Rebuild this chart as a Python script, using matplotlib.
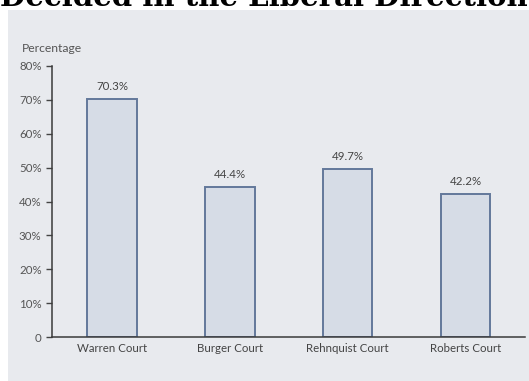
import matplotlib
matplotlib.use("Agg")
import matplotlib.pyplot as plt
from matplotlib.patches import Rectangle

courts = ["Warren Court", "Burger Court", "Rehnquist Court", "Roberts Court"]
liberal_pct = [70.3, 44.4, 49.7, 42.2]
y_ticks = [0, 10, 20, 30, 40, 50, 60, 70, 80]
y_tick_labels = ["0", "10%", "20%", "30%", "40%", "50%", "60%", "70%", "80%"]
title = "Decided in the Liberal Direction"

W, H = 529, 381
fig = plt.figure(figsize=(W / 100, H / 100), dpi=100)
fig.patch.set_facecolor("white")

# gray panel behind the chart
fig.patches.append(Rectangle((8 / W, 0), 1 - 8 / W, 1 - 10 / H,
                             transform=fig.transFigure, facecolor="#e8eaee",
                             edgecolor="none", zorder=-5))

# heading runs off the top edge
fig.text(0.0, 1 - 6 / H, title, family="DejaVu Serif", weight="bold",
         fontsize=21, color="black", va="baseline", ha="left")

left, right, bottom, top = 52 / W, 525 / W, 1 - 337 / H, 1 - 66 / H
ax = fig.add_axes([left, bottom, right - left, top - bottom])
ax.set_zorder(2)
ax.set_facecolor("none")

font = "Lato"
fs = 8.3
x = range(len(courts))
bars = ax.bar(x, liberal_pct, width=0.42, color="#d6dce6",
              edgecolor="#63789a", linewidth=1.4, zorder=2)
for xi, v in zip(x, liberal_pct):
    ax.text(xi, v + 2.0, f"{v}%", ha="center", va="bottom", fontsize=fs,
            family=font, color="#444444")

ax.set_xlim(-0.508, 3.504)
ax.set_ylim(0, 80)
ax.set_yticks(y_ticks)
ax.set_yticklabels(y_tick_labels, family=font, fontsize=fs, color="#555555")
ax.set_xticks(list(x))
ax.set_xticklabels(courts, family=font, fontsize=fs, color="#444444")
ax.tick_params(axis="x", length=0, pad=4.5)
ax.tick_params(axis="y", length=4, width=1, color="#444444", pad=3.5)

for s in ["top", "right"]:
    ax.spines[s].set_visible(False)
for s in ["left", "bottom"]:
    ax.spines[s].set_color("#3a3a3a")
    ax.spines[s].set_linewidth(1.1)

fig.text(22 / W, 1 - 48 / H, "Percentage", family=font, fontsize=fs + 0.4,
         color="#555555", va="center", ha="left")

fig.savefig("out.png", dpi=100)
